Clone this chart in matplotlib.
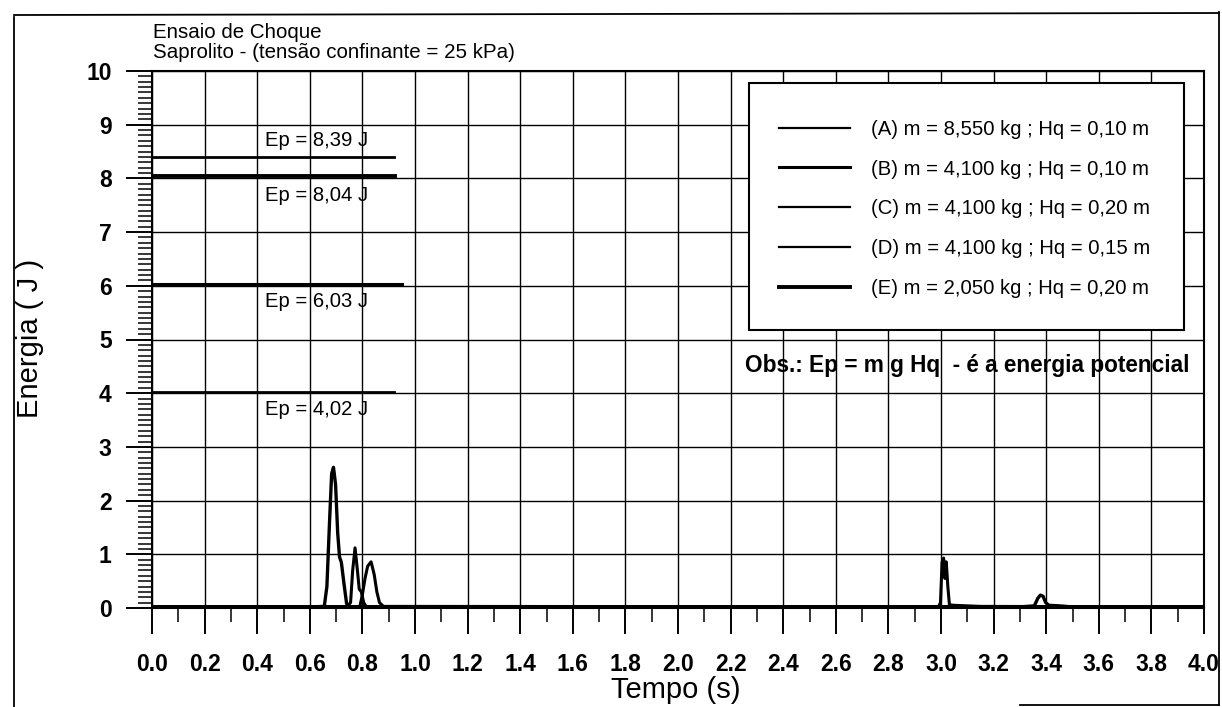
'''Ensaio de choque - energia x tempo (saprolito, 25 kPa).'''

import numpy as np
import matplotlib
matplotlib.use('Agg')
import matplotlib.pyplot as plt
from matplotlib.lines import Line2D
from matplotlib.patches import Rectangle
from matplotlib.ticker import MultipleLocator

plt.rcParams['font.family'] = ['Liberation Sans', 'DejaVu Sans']

# energy curves (time in s, energy in J)
t_A = [0.0, 0.60, 0.655, 0.665, 0.675, 0.683, 0.690, 0.698, 0.706, 0.713, 0.720, 0.730, 0.740, 0.750, 4.0]
E_A = [0.02, 0.02, 0.03, 0.40, 1.60, 2.50, 2.62, 2.30, 1.40, 0.95, 0.85, 0.45, 0.08, 0.02, 0.02]

t_B = [0.0, 0.74, 0.755, 0.763, 0.772, 0.780, 0.788, 0.796, 0.805, 0.815, 4.0]
E_B = [0.02, 0.02, 0.10, 0.70, 1.12, 0.75, 0.35, 0.30, 0.10, 0.02, 0.02]

t_C = [0.0, 2.99, 2.998, 3.004, 3.010, 3.015, 3.020, 3.026, 3.032, 3.05, 3.15, 4.0]
E_C = [0.02, 0.02, 0.10, 0.85, 0.93, 0.55, 0.86, 0.40, 0.06, 0.05, 0.03, 0.02]

t_D = [0.0, 0.79, 0.800, 0.810, 0.820, 0.833, 0.845, 0.855, 0.865, 0.880, 4.0]
E_D = [0.02, 0.02, 0.25, 0.55, 0.78, 0.86, 0.62, 0.30, 0.10, 0.03, 0.02]

t_E = [0.0, 3.30, 3.355, 3.368, 3.378, 3.388, 3.398, 3.410, 3.45, 3.50, 4.0]
E_E = [0.02, 0.02, 0.04, 0.18, 0.24, 0.22, 0.10, 0.05, 0.04, 0.02, 0.02]

# potential energy levels Ep = m g Hq
ep_values = [8.39, 8.04, 6.03, 4.02]
ep_end = [0.92, 0.925, 0.95, 0.92]
ep_widths = [2.0, 2.8, 2.2, 2.0]
ep_text = ['Ep = 8,39 J', 'Ep = 8,04 J', 'Ep = 6,03 J', 'Ep = 4,02 J']
ep_text_y = [8.70, 7.69, 5.70, 3.69]

labels = ['(A) m = 8,550 kg ; Hq = 0,10 m',
          '(B) m = 4,100 kg ; Hq = 0,10 m',
          '(C) m = 4,100 kg ; Hq = 0,20 m',
          '(D) m = 4,100 kg ; Hq = 0,15 m',
          '(E) m = 2,050 kg ; Hq = 0,20 m']
widths = [1.6, 2.2, 1.6, 1.6, 2.8]
curve_widths = [2.4, 2.2, 2.2, 2.2, 2.4]

W, H = 1222, 707
fig = plt.figure(figsize=(W / 100, H / 100), dpi=100)
ax = fig.add_axes([152 / W, 1 - 608 / H, (1204 - 152) / W, (608 - 71) / H])

curves = [(t_A, E_A), (t_B, E_B), (t_C, E_C), (t_D, E_D), (t_E, E_E)]
for (t, e), lw in zip(curves, curve_widths):
    ax.plot(t, e, color='black', lw=lw, zorder=4)

for y, x1, lw, s, ty in zip(ep_values, ep_end, ep_widths, ep_text, ep_text_y):
    ax.plot([0, x1], [y, y], color='black', lw=lw, zorder=4)
    ax.text(0.43, ty, s, fontsize=14.6, va='center', ha='left')

ax.set_xlim(0, 4)
ax.set_ylim(0, 10)
ax.set_xticks(np.arange(0, 4.01, 0.2))
ax.set_xticklabels(['%.1f' % v for v in np.arange(0, 4.01, 0.2)])
ax.set_yticks(range(0, 11))
ax.xaxis.set_minor_locator(MultipleLocator(0.1))
ax.yaxis.set_minor_locator(MultipleLocator(0.1))
ax.grid(True, which='major', color='black', lw=1.0)
ax.tick_params(which='major', length=19, width=1.4, pad=10, labelsize=16.5)
ax.tick_params(axis='x', which='major', pad=13.5)
ax.tick_params(which='minor', length=10, width=1.1)
for lab in ax.get_xticklabels() + ax.get_yticklabels():
    lab.set_fontweight('bold')
for sp in ax.spines.values():
    sp.set_linewidth(1.5)

# legend box
ax.add_patch(Rectangle((0.5675, 0.5177), 0.4135, 0.46, transform=ax.transAxes,
                       facecolor='white', edgecolor='black', lw=1.5, zorder=5))
handles = [Line2D([], [], color='black', lw=lw) for lw in widths]
leg = ax.legend(handles, labels, loc='upper left', bbox_to_anchor=(0.596, 0.909),
                frameon=False, fontsize=14.6, handlelength=3.5, handletextpad=1.05,
                labelspacing=1.02, borderpad=0, borderaxespad=0)
leg.set_zorder(6)

ax.text(0.5637, 0.4525, 'Obs.: Ep = m g Hq  - é a energia potencial',
        transform=ax.transAxes, fontsize=16.3, fontweight='bold', va='center', ha='left')

fig.text(153 / W, 1 - 32 / H, 'Ensaio de Choque', fontsize=14.8, va='center', ha='left')
fig.text(153 / W, 1 - 53 / H, 'Saprolito - (tensão confinante = 25 kPa)',
         fontsize=14.8, va='center', ha='left')
fig.text(676 / W, 1 - 690 / H, 'Tempo (s)', fontsize=21, va='center', ha='center')
fig.text(30 / W, 1 - 338 / H, 'Energia ( J )', fontsize=21, va='center', ha='center',
         rotation=90)

# outer frame of the scanned page
def frame_line(xs, ys):
    fig.add_artist(Line2D([x / W for x in xs], [1 - y / H for y in ys],
                          color='black', lw=1.3))

frame_line([14, 14], [17, 707])
frame_line([14, 1219], [15, 13])
frame_line([1219, 1219], [12, 705])
frame_line([1020, 1219], [705, 705])

fig.savefig('out.png', dpi=100)
